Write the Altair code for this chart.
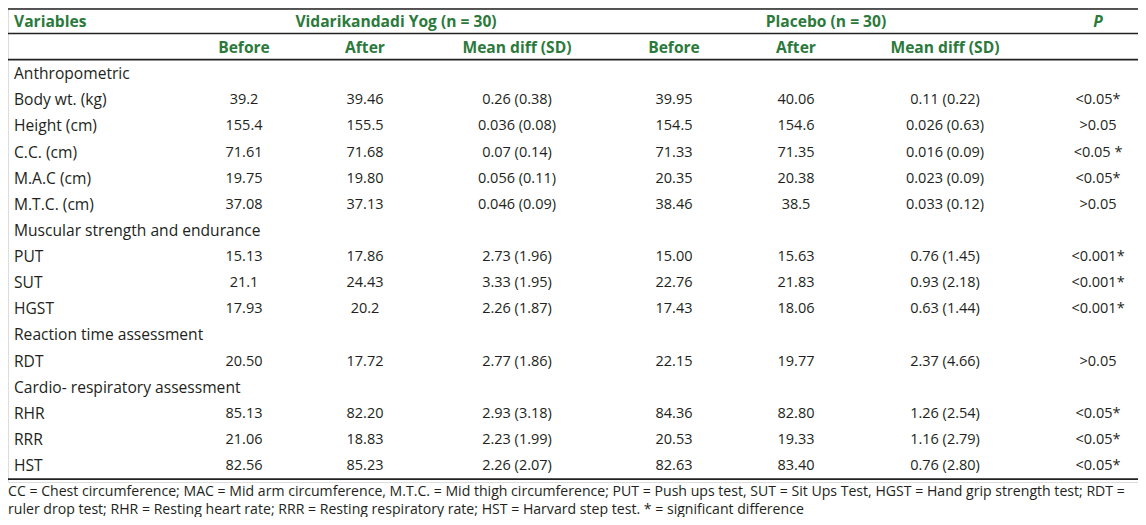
import altair as alt
import pandas as pd

# ---------------- data ----------------
variables = ["Anthropometric", "Body wt. (kg)", "Height (cm)", "C.C. (cm)", "M.A.C (cm)", "M.T.C. (cm)",
             "Muscular strength and endurance", "PUT", "SUT", "HGST",
             "Reaction time assessment", "RDT",
             "Cardio- respiratory assessment", "RHR", "RRR", "HST"]
vy_before = ["", "39.2", "155.4", "71.61", "19.75", "37.08", "", "15.13", "21.1", "17.93", "", "20.50", "", "85.13", "21.06", "82.56"]
vy_after = ["", "39.46", "155.5", "71.68", "19.80", "37.13", "", "17.86", "24.43", "20.2", "", "17.72", "", "82.20", "18.83", "85.23"]
vy_diff = ["", "0.26 (0.38)", "0.036 (0.08)", "0.07 (0.14)", "0.056 (0.11)", "0.046 (0.09)", "",
           "2.73 (1.96)", "3.33 (1.95)", "2.26 (1.87)", "", "2.77 (1.86)", "", "2.93 (3.18)", "2.23 (1.99)", "2.26 (2.07)"]
pl_before = ["", "39.95", "154.5", "71.33", "20.35", "38.46", "", "15.00", "22.76", "17.43", "", "22.15", "", "84.36", "20.53", "82.63"]
pl_after = ["", "40.06", "154.6", "71.35", "20.38", "38.5", "", "15.63", "21.83", "18.06", "", "19.77", "", "82.80", "19.33", "83.40"]
pl_diff = ["", "0.11 (0.22)", "0.026 (0.63)", "0.016 (0.09)", "0.023 (0.09)", "0.033 (0.12)", "",
           "0.76 (1.45)", "0.93 (2.18)", "0.63 (1.44)", "", "2.37 (4.66)", "", "1.26 (2.54)", "1.16 (2.79)", "0.76 (2.80)"]
p_vals = ["", "<0.05*", ">0.05", "<0.05 *", "<0.05*", ">0.05", "", "<0.001*", "<0.001*", "<0.001*", "", ">0.05", "",
          "<0.05*", "<0.05*", "<0.05*"]

group_headers = ["Variables", "Vidarikandadi Yog (n = 30)", "Placebo (n = 30)", "P"]
sub_headers = ["Before", "After", "Mean diff (SD)"]

footnote = [
    "CC = Chest circumference; MAC = Mid arm circumference, M.T.C. = Mid thigh circumference; PUT = Push ups test, SUT = Sit Ups Test, HGST = Hand grip strength test; RDT =",
    "ruler drop test; RHR = Resting heart rate; RRR = Resting respiratory rate; HST = Harvard step test. * = significant difference",
]

# column keys in left-to-right order (index used by piecewise x scale)
col_keys = ["var", "vy_b", "vy_a", "vy_g", "vy_d", "pl_b", "pl_a", "pl_g", "pl_d", "p"]
col_idx = {k: i for i, k in enumerate(col_keys)}
col_px = [6, 236, 357, 388, 509, 666, 788, 818, 937, 1090]

# ---------------- tables ----------------
n_head = 2
body_rows = []
for i, v in enumerate(variables):
    r = n_head + i
    body_rows.append({"row": r, "c": col_idx["var"], "t": v})
    for key, arr in [("vy_b", vy_before), ("vy_a", vy_after), ("vy_d", vy_diff),
                     ("pl_b", pl_before), ("pl_a", pl_after), ("pl_d", pl_diff), ("p", p_vals)]:
        if arr[i]:
            body_rows.append({"row": r, "c": col_idx[key], "t": arr[i]})
body = pd.DataFrame(body_rows)
body_left = body[body.c == col_idx["var"]]
body_center = body[body.c != col_idx["var"]]

head_rows = [
    {"row": 0, "c": col_idx["vy_g"], "t": group_headers[1]},
    {"row": 0, "c": col_idx["pl_g"], "t": group_headers[2]},
]
for key, t in zip(["vy_b", "vy_a", "vy_d"], sub_headers):
    head_rows.append({"row": 1, "c": col_idx[key], "t": t})
for key, t in zip(["pl_b", "pl_a", "pl_d"], sub_headers):
    head_rows.append({"row": 1, "c": col_idx[key], "t": t})
head_center = pd.DataFrame(head_rows)
head_left = pd.DataFrame([{"row": 0, "c": col_idx["var"], "t": group_headers[0]}])
head_p = pd.DataFrame([{"row": 0, "c": col_idx["p"], "t": group_headers[3]}])

last_row = n_head + len(variables) - 1
# rules: table top, under each header row, under the last body row
rules = pd.DataFrame({"row": [-0.5, 0.44, 1.44, last_row + 0.5]})

# ---------------- chart ----------------
W, H = 1130, 474
pitch = 26.12
y0 = -14 / pitch
xs = alt.Scale(domain=list(range(len(col_keys))), range=col_px)
ys = alt.Scale(domain=[y0, y0 + H / pitch], reverse=True, nice=False, zero=False)

X = alt.X("c:Q", scale=xs, axis=None)
Y = alt.Y("row:Q", scale=ys, axis=None)

FONT = "Open Sans"
GREEN = "#2b7a3b"
INK = "#231f20"

body_l = alt.Chart(body_left).mark_text(align="left", baseline="middle", font=FONT, fontSize=15.6, color=INK).encode(
    x=X, y=Y, text="t:N")
body_c = alt.Chart(body_center).mark_text(align="center", baseline="middle", font=FONT, fontSize=14.5, color=INK).encode(
    x=X, y=Y, text="t:N")
hd_l = alt.Chart(head_left).mark_text(align="left", baseline="middle", font=FONT, fontSize=15.6, fontWeight="bold",
                                     color=GREEN).encode(x=X, y=Y, text="t:N")
hd_c = alt.Chart(head_center).mark_text(align="center", baseline="middle", font=FONT, fontSize=15.6, fontWeight="bold",
                                       color=GREEN).encode(x=X, y=Y, text="t:N")
hd_p = alt.Chart(head_p).mark_text(align="center", baseline="middle", font=FONT, fontSize=15.6, fontWeight="bold",
                                  fontStyle="italic", color=GREEN).encode(x=X, y=Y, text="t:N")
rule_l = alt.Chart(rules).mark_rule(color="#222222", strokeWidth=1.6).encode(
    y=Y, x=alt.value(0), x2=alt.value(W))

chart = alt.layer(rule_l, hd_l, hd_c, hd_p, body_l, body_c).properties(
    width=W, height=H,
    title=alt.TitleParams(text=footnote, orient="bottom", anchor="start", frame="group", font=FONT,
                          fontSize=14.1, fontWeight="normal", color=INK, lineHeight=18, offset=3,
                          baseline="top", align="left"),
    autosize=alt.AutoSizeParams(type="none"),
    padding={"left": 0, "top": 0, "right": 0, "bottom": 35},
).configure_view(stroke=None).configure(background="white")

chart.save("out.html", embed_options={"renderer": "svg", "actions": False})
